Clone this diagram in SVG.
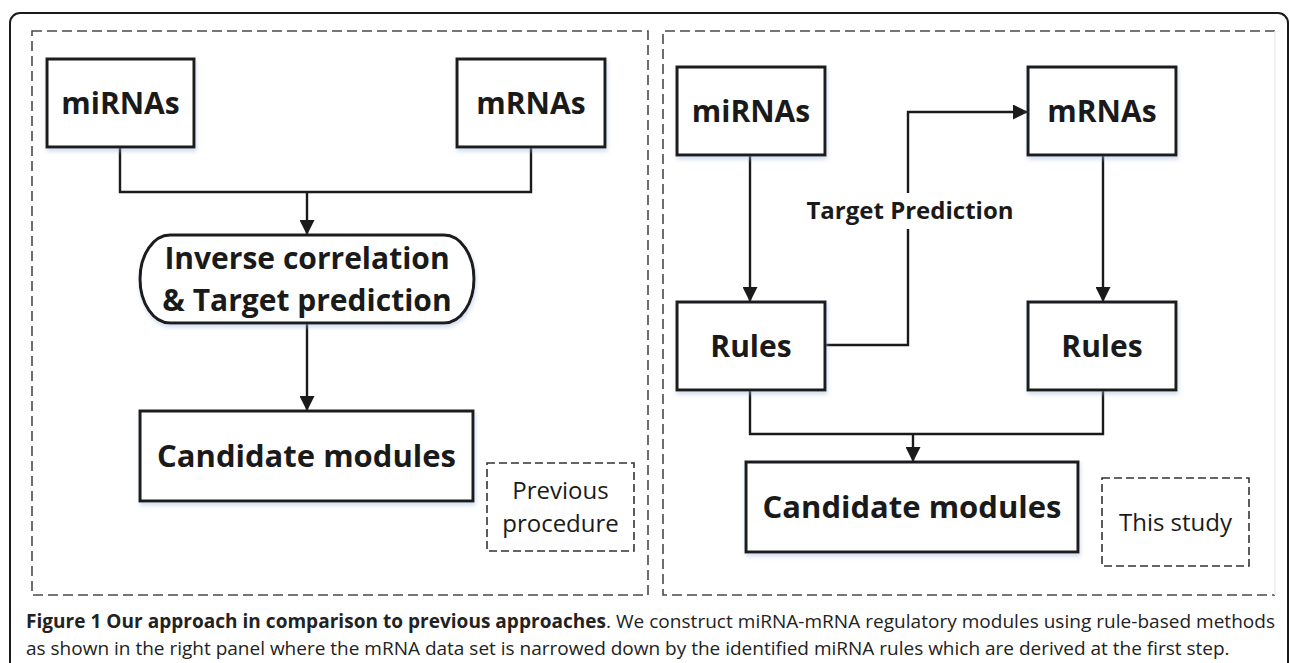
<svg xmlns="http://www.w3.org/2000/svg" width="1290" height="663" viewBox="0 0 1290 663">
  <defs>
    <marker id="arrow" viewBox="0 0 15 15" refX="15" refY="7.5" markerWidth="15" markerHeight="15" markerUnits="userSpaceOnUse" orient="auto">
      <path d="M0,0 L15,7.5 L0,15 z" fill="#1a1a1a"/>
    </marker>
    <filter id="glow" x="-10%" y="-10%" width="120%" height="130%">
      <feDropShadow dx="1" dy="3" stdDeviation="2" flood-color="#9fb4d8" flood-opacity="0.45"/>
    </filter>
  </defs>
  <style>
    .frame { fill: none; stroke: #1a1a1a; stroke-width: 2; }
    .panel { fill: none; stroke: #4a4a4a; stroke-width: 1.6; stroke-dasharray: 10 5; }
    .box { fill: #ffffff; stroke: #1a1a1a; stroke-width: 3; filter: url(#glow); }
    .tag { fill: #ffffff; stroke: #333333; stroke-width: 1.6; stroke-dasharray: 8 4; }
    .wire { fill: none; stroke: #1a1a1a; stroke-width: 2.4; }
    .lbl { font-family: "Open Sans", "Liberation Sans", sans-serif; font-weight: bold; fill: #1a1a1a; text-anchor: middle; }
    .note { font-family: "Open Sans", "Liberation Sans", sans-serif; font-size: 24px; fill: #1a1a1a; text-anchor: middle; }
    .cap { font-family: "Open Sans", "Liberation Sans", sans-serif; font-size: 19px; fill: #222222; }
  </style>

  <rect x="0" y="0" width="1290" height="663" fill="#ffffff"/>

  <!-- outer figure frame -->
  <rect class="frame" x="10" y="13" width="1278" height="720" rx="10"/>

  <!-- left panel: previous procedure -->
  <g id="panel-previous">
    <rect class="panel" x="32" y="31" width="616" height="564"/>
  </g>

  <!-- right panel: this study (right edge fades out) -->
  <g id="panel-study">
    <path class="panel" d="M1275,31 H663 V595 H1275"/>
    <line x1="1275" y1="31" x2="1275" y2="595" stroke="#ececf0" stroke-width="1.5"/>
  </g>

  <!-- connectors -->
  <g id="connectors">
    <path class="wire" d="M120,147 V192 H531 V147"/>
    <path class="wire" d="M307,192 V235" marker-end="url(#arrow)"/>
    <path class="wire" d="M307,323 V411" marker-end="url(#arrow)"/>

    <path class="wire" d="M750,155 V302" marker-end="url(#arrow)"/>
    <path class="wire" d="M1103,155 V302" marker-end="url(#arrow)"/>
    <path class="wire" d="M825,345 H908 V229"/>
    <path class="wire" d="M908,193 V112 H1028" marker-end="url(#arrow)"/>
    <path class="wire" d="M750,390 V434 H1103 V390"/>
    <path class="wire" d="M913,434 V462" marker-end="url(#arrow)"/>
    <text class="lbl" x="910" y="219" font-size="24">Target Prediction</text>
  </g>

  <!-- left panel nodes -->
  <g id="l-mirnas">
    <rect class="box" x="47" y="59" width="147" height="88"/>
    <text class="lbl" x="120.5" y="114" font-size="30">miRNAs</text>
  </g>
  <g id="l-mrnas">
    <rect class="box" x="457" y="59" width="148" height="88"/>
    <text class="lbl" x="531" y="114" font-size="30">mRNAs</text>
  </g>
  <g id="l-inverse">
    <rect class="box" x="140" y="235" width="334" height="88" rx="30" ry="44"/>
    <text class="lbl" x="307" y="269" font-size="30">Inverse correlation</text>
    <text class="lbl" x="307" y="311" font-size="30">&amp; Target prediction</text>
  </g>
  <g id="l-candidate">
    <rect class="box" x="140" y="411" width="333" height="90"/>
    <text class="lbl" x="306.5" y="467" font-size="31">Candidate modules</text>
  </g>
  <g id="l-tag">
    <rect class="tag" x="487" y="463" width="147" height="88"/>
    <text class="note" x="560.5" y="499">Previous</text>
    <text class="note" x="560.5" y="532">procedure</text>
  </g>

  <!-- right panel nodes -->
  <g id="r-mirnas">
    <rect class="box" x="677" y="67" width="148" height="88"/>
    <text class="lbl" x="751" y="122" font-size="30">miRNAs</text>
  </g>
  <g id="r-mrnas">
    <rect class="box" x="1028" y="67" width="148" height="88"/>
    <text class="lbl" x="1102" y="122" font-size="30">mRNAs</text>
  </g>
  <g id="r-rules-mirna">
    <rect class="box" x="677" y="302" width="148" height="88"/>
    <text class="lbl" x="751" y="357" font-size="30">Rules</text>
  </g>
  <g id="r-rules-mrna">
    <rect class="box" x="1028" y="302" width="148" height="88"/>
    <text class="lbl" x="1102" y="357" font-size="30">Rules</text>
  </g>
  <g id="r-candidate">
    <rect class="box" x="746" y="462" width="332" height="90"/>
    <text class="lbl" x="912" y="518" font-size="31">Candidate modules</text>
  </g>
  <g id="r-tag">
    <rect class="tag" x="1102" y="478" width="147" height="88"/>
    <text class="note" x="1175.5" y="531">This study</text>
  </g>

  <!-- caption -->
  <g id="caption">
    <text class="cap" x="26" y="628" textLength="1249" lengthAdjust="spacing"><tspan font-weight="bold">Figure 1 Our approach in comparison to previous approaches</tspan>. We construct miRNA-mRNA regulatory modules using rule-based methods</text>
    <text class="cap" x="26" y="655">as shown in the right panel where the mRNA data set is narrowed down by the identified miRNA rules which are derived at the first step.</text>
  </g>
</svg>
